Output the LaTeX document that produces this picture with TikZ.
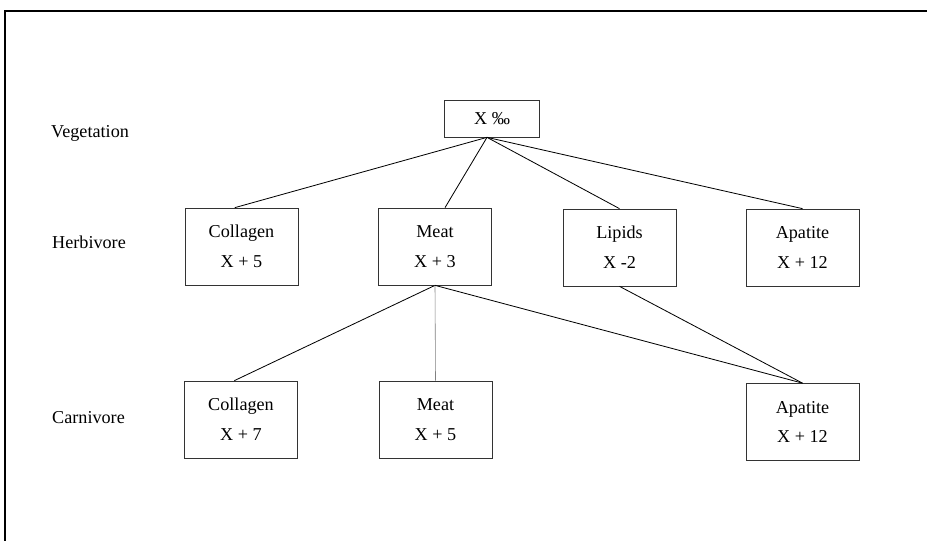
\documentclass[tikz,border=0pt]{standalone}
\usepackage{fontspec}
\setmainfont{Liberation Serif}
\usepackage{tikz}
\usetikzlibrary{positioning}

\tikzset{
  foodbox/.style={draw=black!80, line width=0.6pt, minimum width=3.39cm, minimum height=2.31cm, align=center, inner sep=0pt},
  levellabel/.style={anchor=west, inner sep=0pt},
  link/.style={draw=black, line width=0.7pt}
}

\begin{document}
\begin{tikzpicture}[x=0.03cm, y=-0.03cm, font=\fontsize{15.5}{18}\selectfont]
					\useasboundingbox (0,0) rectangle (927,541);
					% Frame
					\draw[line width=2pt] (5,541) -- (5,11) -- (927,11);
					% Level labels
					\node[levellabel] (lveg) at (51,133) {Vegetation};
					\node[levellabel] (lherb) at (52,242) {Herbivore};
					\node[levellabel] (lcarn) at (52,418) {Carnivore};
					% Vegetation
					\node[draw=black!80, line width=0.6pt, minimum width=2.85cm, minimum height=1.11cm, inner sep=0pt] (veg) at (492,118.5) {X ‰};
					% Herbivore
					\node[foodbox] (hcol) at (241.5,246.5) {Collagen\\[7.5pt]X + 5};
					\node[foodbox] (hmeat) at (435,246.5) {Meat\\[7.5pt]X + 3};
					\node[foodbox] (hlip) at (619.5,247.5) {Lipids\\[7.5pt]X -2};
					\node[foodbox] (hapa) at (802.5,247.5) {Apatite\\[7.5pt]X + 12};
					% Carnivore
					\node[foodbox] (ccol) at (241,419.5) {Collagen\\[7.5pt]X + 7};
					\node[foodbox] (cmeat) at (435.5,419.5) {Meat\\[7.5pt]X + 5};
					\node[foodbox] (capa) at (802.5,422) {Apatite\\[7.5pt]X + 12};
					% Vegetation to herbivore
					\draw[link] ([xshift=-0.15cm]veg.south) -- ([xshift=-0.2cm]hcol.north);
					\draw[link] ([xshift=-0.15cm]veg.south) -- ([xshift=0.3cm]hmeat.north);
					\draw[link] ([xshift=-0.15cm]veg.south) -- (hlip.north);
					\draw[link] ([xshift=-0.15cm]veg.south) -- (hapa.north);
					% Herbivore to carnivore
					\draw[link] (hmeat.south) -- ([xshift=-0.2cm]ccol.north);
					\draw[draw=black!50, line width=0.5pt] (hmeat.south) -- (cmeat.north);
					\draw[link] (hmeat.south) -- (capa.north);
					\draw[link] (hlip.south) -- (capa.north);
				\end{tikzpicture}
\end{document}
